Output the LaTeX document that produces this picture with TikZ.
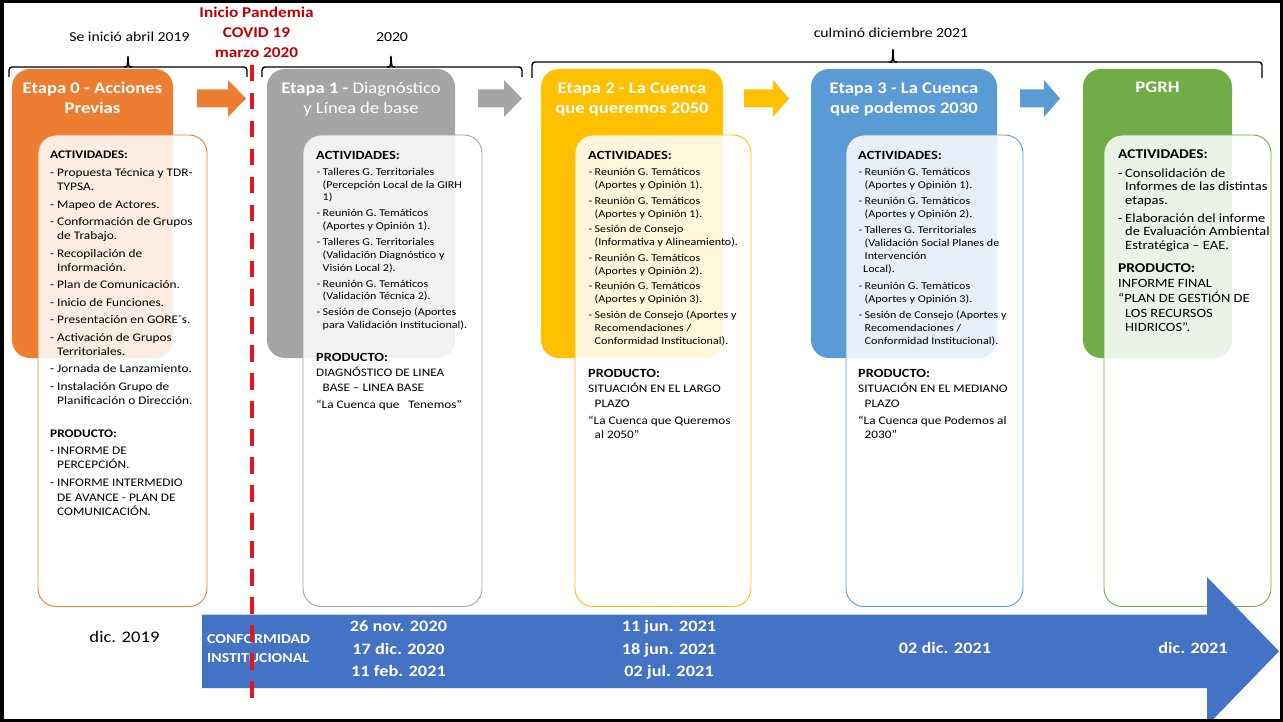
\documentclass[tikz,border=0pt]{standalone}
\usepackage{fontspec}
\setmainfont{Carlito}[FakeStretch=1.15]
\definecolor{cOr}{HTML}{ED7D31}
\definecolor{cGr}{HTML}{A5A5A5}
\definecolor{cYe}{HTML}{FFC000}
\definecolor{cBl}{HTML}{5B9BD5}
\definecolor{cGn}{HTML}{70AD47}
\definecolor{cTl}{HTML}{4472C4}
\definecolor{cRd}{HTML}{C00000}
\definecolor{cDash}{HTML}{E3161E}
\newcommand\fs[2]{\fontsize{#1}{#2}\selectfont}
\newcommand\su{\rule{0pt}{12pt}}
\newcommand\bA{\makebox[7pt][l]{-}}
\newcommand\cA{\hspace*{7pt}}
\newcommand\bB{\makebox[6.5pt][l]{\hspace*{0.5pt}-}}
\newcommand\cB{\hspace*{6.5pt}}
\newcommand\hB[1]{{\fs{12.5}{13}\bfseries #1}}
\newcommand\pB[1]{{\fs{11.5}{13}#1}}
\newcommand\barrow[4]{\fill[#1] (#2,89.5) -- (#3,89.5) -- (#3,80) -- (#4,98.5) -- (#3,117) -- (#3,107.5) -- (#2,107.5) -- cycle;}
\newcommand\brc[6]{%
  \draw[bracestroke, rounded corners=3pt] (#1,#6) |- (#3,#5) -| (#2,#6);
  \draw[bracestroke] ({#3-4},#5) .. controls ({#3-0.5},#5) .. (#3,#4) .. controls ({#3+0.5},#5) .. ({#3+4},#5);}
\tikzset{
  stagebox/.style={rounded corners=18pt},
  innerbox/.style={rounded corners=18pt, fill=white, fill opacity=0.86, line width=0.9pt},
  bodytext/.style={anchor=north west, align=left, inner sep=0pt, text=black},
  titletext/.style={anchor=north, align=center, inner sep=0pt, text=white, font=\fs{16.2}{20}\bfseries},
  toptext/.style={anchor=base, inner sep=0pt, font=\fs{13.7}{16}},
  datetext/.style={anchor=north, align=center, inner sep=0pt, text=white, font=\fs{15.9}{22.5}\bfseries},
  bracestroke/.style={line width=1.4pt},
}
\begin{document}
\begin{tikzpicture}[x=1pt,y=-1pt]
\useasboundingbox (0,0) rectangle (1283,722);
\begin{scope}
\clip (0,0) rectangle (1283,722);
% top labels
\node[toptext] (t0) at (129.5,42) {Se inició abril 2019};
\node[toptext] (t1) at (392,42) {2020};
\node[toptext] (t2) at (891,38) {culminó diciembre 2021};
\node[anchor=north, align=center, inner sep=0pt, text=cRd, font=\fs{15}{20}\bfseries] (covid) at (256.5,4) {\rule{0pt}{13pt}Inicio Pandemia\\COVID 19\\marzo 2020};
% braces
\brc{9}{247}{128}{56}{67}{77}
\brc{262}{522}{391}{56}{67}{77}
\brc{532}{1262}{893}{49}{62}{78}
% stage boxes
\fill[cOr,stagebox] (12,69) rectangle (173,358);
\fill[cGr,stagebox] (267,69) rectangle (455,358);
\fill[cYe,stagebox] (541,69) rectangle (723,358);
\fill[cBl,stagebox] (811,69) rectangle (997,358);
\fill[cGn,stagebox] (1083,69) rectangle (1232,358);
% inner boxes
\draw[innerbox,draw=cOr] (38,135) rectangle (207,606.5);
\draw[innerbox,draw=cGr] (303,135) rectangle (482,606.5);
\draw[innerbox,draw=cYe] (575,135) rectangle (751,606.5);
\draw[innerbox,draw=cBl] (846,135) rectangle (1023,606.5);
\draw[innerbox,draw=cGn] (1104,135) rectangle (1271,606.5);
% small block arrows
\barrow{cOr}{197}{228}{246}
\barrow{cGr}{478}{504}{522}
\barrow{cYe}{744}{773}{789}
\barrow{cBl}{1020}{1044}{1060}
% titles
\node[titletext] (s0) at (92.5,79) {\rule{0pt}{14pt}Etapa 0 - Acciones\\Previas};
\node[titletext] (s1) at (361,79) {\rule{0pt}{14pt}Etapa 1 - \mdseries Diagnóstico\\\mdseries y Línea de base};
\node[titletext] (s2) at (632,79) {\rule{0pt}{14pt}Etapa 2 - La Cuenca\\que queremos 2050};
\node[titletext] (s3) at (904,79) {\rule{0pt}{14pt}Etapa 3 - La Cuenca\\que podemos 2030};
\node[titletext, anchor=base] (s4) at (1157.5,93) {PGRH};
% Etapa 0 text
\node[bodytext, font=\fs{11.6}{14}] (b0) at (50,146.5) {\su\textbf{ACTIVIDADES:}\\[3.8pt]
\bA Propuesta Técnica y TDR-\\
\cA TYPSA.\\[3.5pt]
\bA Mapeo de Actores.\\[3.5pt]
\bA Conformación de Grupos\\
\cA de Trabajo.\\[3.5pt]
\bA Recopilación de\\
\cA Información.\\[3.5pt]
\bA Plan de Comunicación.\\[3.5pt]
\bA Inicio de Funciones.\\[3.5pt]
\bA Presentación en GORE´s.\\[3.5pt]
\bA Activación de Grupos\\
\cA Territoriales.\\[3.5pt]
\bA Jornada de Lanzamiento.\\[3.5pt]
\bA Instalación Grupo de\\
\cA Planificación o Dirección.\\[19.9pt]
\textbf{PRODUCTO:}\\[3pt]
\bA INFORME DE\\
\cA PERCEPCIÓN.\\[4pt]
\bA INFORME INTERMEDIO\\[1pt]
\cA DE AVANCE - PLAN DE\\
\cA COMUNICACIÓN.};
% Etapa 1 text
\node[bodytext, font=\fs{10.5}{12.7}] (b1) at (316,147) {\su\hB{ACTIVIDADES:}\\[3.6pt]
\bB Talleres G. Territoriales\\
\cB (Percepción Local de la GIRH\\
\cB 1)\\[3.3pt]
\bB Reunión G. Temáticos\\
\cB (Aportes y Opinión 1).\\[3.3pt]
\bB Talleres G. Territoriales\\
\cB (Validación Diagnóstico y\\
\cB Visión Local 2).\\[3.3pt]
\bB Reunión G. Temáticos\\
\cB (Validación Técnica 2).\\[3.3pt]
\bB Sesión de Consejo (Aportes\\
\cB para Validación Institucional).\\[20pt]
\hB{PRODUCTO:}\\[2.9pt]
\pB{DIAGNÓSTICO DE LINEA}\\[2.3pt]
\pB{\cB BASE – LINEA BASE}\\[4.3pt]
\pB{“La Cuenca que\ \ \ Tenemos”}};
% Etapa 2 text
\node[bodytext, font=\fs{10.5}{13}] (b2) at (588,147) {\su\hB{ACTIVIDADES:}\\[3.3pt]
\bB Reunión G. Temáticos\\
\cB (Aportes y Opinión 1).\\[2.6pt]
\bB Reunión G. Temáticos\\
\cB (Aportes y Opinión 1).\\[2.6pt]
\bB Sesión de Consejo\\
\cB (Informativa y Alineamiento).\\[2.6pt]
\bB Reunión G. Temáticos\\
\cB (Aportes y Opinión 2).\\[2.6pt]
\bB Reunión G. Temáticos\\
\cB (Aportes y Opinión 3).\\[2.6pt]
\bB Sesión de Consejo (Aportes y\\
\cB Recomendaciones /\\
\cB Conformidad Institucional).\\[19.7pt]
\hB{PRODUCTO:}\\[2.6pt]
\pB{SITUACIÓN EN EL LARGO}\\[2pt]
\pB{\cB PLAZO}\\[4pt]
\pB{“La Cuenca que Queremos}\\[1pt]
\pB{\cB al 2050”}};
% Etapa 3 text
\node[bodytext, font=\fs{10.5}{13}] (b3) at (858,147) {\su\hB{ACTIVIDADES:}\\[3.3pt]
\bB Reunión G. Temáticos\\
\cB (Aportes y Opinión 1).\\[3.2pt]
\bB Reunión G. Temáticos\\
\cB (Aportes y Opinión 2).\\[3.2pt]
\bB Talleres G. Territoriales\\
\cB (Validación Social Planes de\\
\cB Intervención\\
\hspace*{5pt}Local).\\[3.2pt]
\bB Reunión G. Temáticos\\
\cB (Aportes y Opinión 3).\\[3.2pt]
\bB Sesión de Consejo (Aportes y\\
\cB Recomendaciones /\\
\cB Conformidad Institucional).\\[19.7pt]
\hB{PRODUCTO:}\\[2.6pt]
\pB{SITUACIÓN EN EL MEDIANO}\\[2pt]
\pB{\cB PLAZO}\\[4pt]
\pB{“La Cuenca que Podemos al}\\[1pt]
\pB{\cB 2030”}};
% PGRH text
\node[bodytext, font=\fs{12.6}{13.5}] (b4) at (1118,146.2) {\su{\fs{13.4}{13.5}\bfseries ACTIVIDADES:}\\[5.3pt]
\bA Consolidación de\\
\cA Informes de las distintas\\
\cA etapas.\\[4.5pt]
\bA Elaboración del informe\\
\cA de Evaluación Ambiental\\
\cA Estratégica – EAE.\\[9.7pt]
{\fs{13.4}{13.5}\bfseries PRODUCTO:}\\[1.3pt]
INFORME FINAL\\[1.5pt]
“PLAN DE GESTIÓN DE\\[1.5pt]
\cA LOS RECURSOS\\[0.5pt]
\cA HIDRICOS”.};
% timeline arrow
\fill[cTl] (202,614.5) -- (1207,614.5) -- (1207,577) -- (1279,651.3) -- (1207,725.6) -- (1207,688) -- (202,688) -- cycle;
\node[anchor=base, inner sep=0pt, font=\fs{16.2}{20}] (d0) at (124.5,642) {dic. 2019};
\node[anchor=north west, align=left, inner sep=0pt, text=white, font=\fs{13.7}{19}\bfseries] (conf) at (207,631) {\su CONFORMIDAD\\INSTITUCIONAL};
\node[datetext] (d1) at (398.5,617.7) {\rule{0pt}{14pt}26 nov. 2020\\17 dic. 2020\\11 feb. 2021};
\node[datetext] (d2) at (669,617.7) {\rule{0pt}{14pt}11 jun. 2021\\18 jun. 2021\\02 jul. 2021};
\node[anchor=base, inner sep=0pt, text=white, font=\fs{15.9}{20}\bfseries] (d3) at (945,653.7) {02 dic. 2021};
\node[anchor=base, inner sep=0pt, text=white, font=\fs{15.9}{20}\bfseries] (d4) at (1193,653.7) {dic. 2021};
% pandemic line
\coordinate (pa) at (252,65);
\coordinate (pb) at (252,698);
\draw[cDash, line width=4pt, dash pattern=on 16.5pt off 11.5pt] (pa) -- (pb);
% frame
\draw[line width=3.5pt] (1.75,1.5) rectangle (1281.5,720.25);
\end{scope}
\end{tikzpicture}
\end{document}
